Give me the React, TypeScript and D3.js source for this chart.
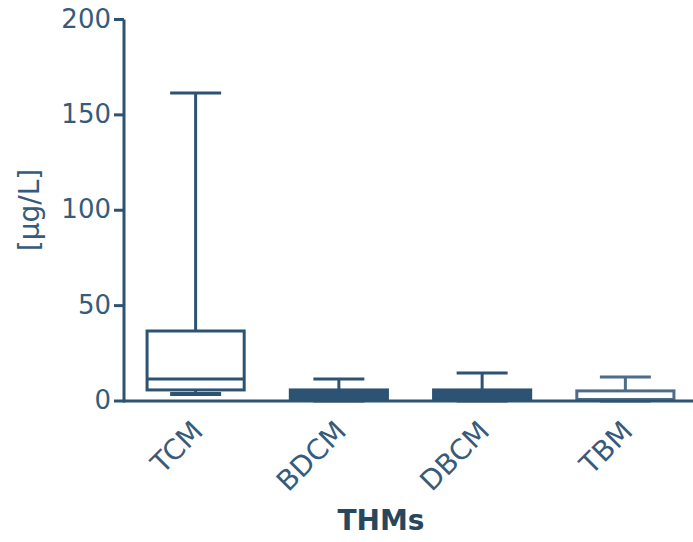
import React from "react";
import * as d3 from "d3";

const categories = ["TCM", "BDCM", "DBCM", "TBM"];
const whiskerMin = [3.7, 0.3, 0.3, 0.2];
const q1Values = [5.8, 0.8, 0.8, 0.4];
const medianValues = [11.5, 2.5, 2.5, 0.8];
const q3Values = [36.7, 5.8, 5.8, 5.3];
const whiskerMax = [161.5, 11.5, 14.7, 12.6];
const yTicks = [0, 50, 100, 150, 200];

const W = 693;
const H = 542;
const DARK = "#2d5373";
const TEXT = "#375b7b";
const boxFill = ["#ffffff", DARK, DARK, "#ffffff"];
const boxStroke = [DARK, DARK, DARK, "#4d6d88"];

export default function App() {
  const y = d3.scaleLinear().domain([0, 200]).range([401, 19.5]);
  const x = d3.scaleBand<string>().domain(categories).range([124, 697]).padding(0);
  const bw = x.bandwidth();
  const boxW = bw * 0.678;
  const capW = bw * 0.356;
  const axisX = 124;

  return (
    <svg
      width={W}
      height={H}
      style={{ position: "absolute", left: 0, top: 0, background: "#fff" }}
      fontFamily="DejaVu Sans, Verdana, sans-serif"
    >
      {/* boxes */}
      {categories.map((c, i) => {
        const cx = (x(c) as number) + bw / 2;
        const yTop = y(q3Values[i]);
        const yBot = y(q1Values[i]);
        return (
          <g key={c} stroke={boxStroke[i]} strokeWidth={3} fill="none">
            <line x1={cx} x2={cx} y1={y(whiskerMax[i])} y2={yTop} />
            <line x1={cx - capW / 2} x2={cx + capW / 2} y1={y(whiskerMax[i])} y2={y(whiskerMax[i])} />
            <line x1={cx} x2={cx} y1={yBot} y2={y(whiskerMin[i])} />
            <line
              x1={cx - capW / 2}
              x2={cx + capW / 2}
              y1={y(whiskerMin[i])}
              y2={y(whiskerMin[i])}
              strokeWidth={4}
            />
            <rect
              x={cx - boxW / 2}
              y={yTop}
              width={boxW}
              height={Math.max(0, yBot - yTop)}
              fill={boxFill[i]}
            />
            <line x1={cx - boxW / 2} x2={cx + boxW / 2} y1={y(medianValues[i])} y2={y(medianValues[i])} />
          </g>
        );
      })}

      {/* y axis */}
      <line x1={axisX} x2={axisX} y1={y(200)} y2={y(0) + 1.5} stroke={DARK} strokeWidth={3} />
      {yTicks.map((t) => (
        <g key={t}>
          <line x1={axisX - 10} x2={axisX} y1={y(t)} y2={y(t)} stroke={DARK} strokeWidth={3} />
          <text x={111} y={y(t) + 8} textAnchor="end" fontSize={26} fill={TEXT}>
            {t}
          </text>
        </g>
      ))}
      {/* x axis */}
      <line x1={axisX} x2={W} y1={y(0)} y2={y(0)} stroke={DARK} strokeWidth={3} />

      {/* x labels */}
      {categories.map((c) => {
        const cx = (x(c) as number) + bw / 2;
        const ax = cx + 9;
        const ay = 433;
        return (
          <text
            key={c}
            x={ax}
            y={ay}
            textAnchor="end"
            fontSize={28}
            fill={TEXT}
            transform={`rotate(-45 ${ax} ${ay})`}
          >
            {c}
          </text>
        );
      })}

      {/* axis titles */}
      <text x={381} y={530} textAnchor="middle" fontSize={28} fontWeight="bold" fill="#27475f">
        THMs
      </text>
      <text
        x={39}
        y={210}
        textAnchor="middle"
        fontSize={28}
        fill={TEXT}
        transform="rotate(-90 39 210)"
      >
        [µg/L]
      </text>
    </svg>
  );
}
